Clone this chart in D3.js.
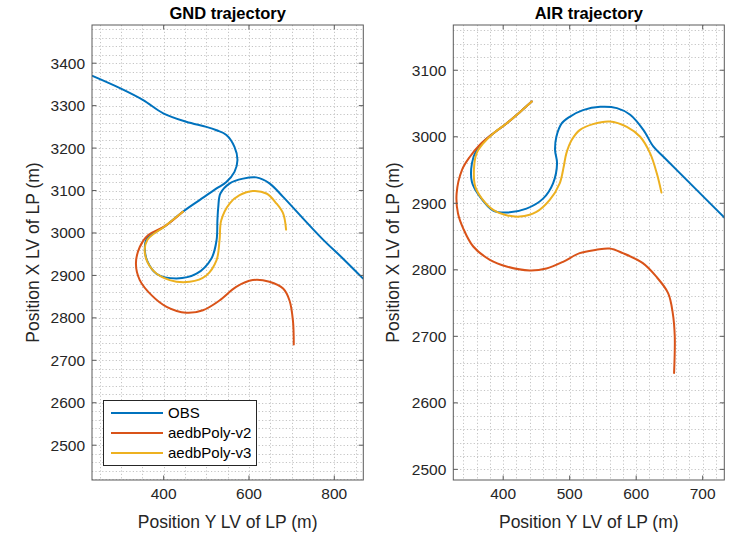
<!DOCTYPE html>
<html><head><meta charset="utf-8">
<script src="https://cdn.jsdelivr.net/npm/d3@7"></script>
<style>body{margin:0;background:#fff}svg{display:block}</style>
</head><body>
<svg id="c" width="738" height="535"></svg>
<script>
// ---------------- data ----------------
const seriesNames = ["OBS", "aedbPoly-v2", "aedbPoly-v3"];
const seriesColors = ["#0072BD", "#D95319", "#EDB120"];

const gndObs = [[233,3370],[300,3340],[352,3313],[399,3282],[453,3262],[500,3250],[524,3242],[547,3231],[566,3203],[573,3172],[566,3144],[547,3120],[524,3105],[485,3078],[445,3050],[403,3016],[360,2985],[356,2960],[362,2933],[383,2904],[430,2893],[477,2904],[512,2940],[524,2983],[526,3030],[528,3061],[533,3093],[555,3117],[586,3128],[617,3131],[648,3117],[680,3085],[726,3035],[773,2985],[820,2940],[867,2893]];
const gndV2 = [[445,3050],[403,3016],[364,2995],[344,2967],[335,2928],[344,2889],[372,2853],[407,2826],[453,2812],[492,2818],[531,2841],[570,2873],[609,2889],[648,2885],[680,2869],[695,2841],[703,2794],[705,2737]];
const gndV3 = [[445,3050],[403,3016],[362,2984],[356,2952],[375,2912],[414,2889],[461,2885],[500,2900],[524,2936],[531,2983],[535,3030],[555,3070],[578,3089],[609,3099],[641,3093],[664,3070],[680,3046],[687,3008]];

const airObs = [[443,3053],[425,3037],[405,3020],[385,3005],[370,2992],[360,2980],[353,2960],[353,2932],[365,2910],[385,2889],[405,2886],[435,2892],[460,2907],[475,2930],[481,2960],[478,2980],[480,3000],[488,3020],[500,3030],[520,3040],[546,3045],[571,3043],[591,3033],[611,3010],[626,2985],[641,2970],[666,2945],[701,2910],[733,2878]];
const airV2 = [[443,3053],[425,3037],[405,3020],[385,3005],[365,2988],[350,2970],[338,2950],[330,2915],[332,2885],[340,2862],[355,2835],[380,2815],[405,2805],[440,2799],[465,2802],[490,2812],[515,2825],[540,2830],[560,2832],[580,2825],[610,2810],[630,2790],[648,2765],[655,2735],[658,2700],[657,2645]];
const airV3 = [[443,3053],[425,3037],[405,3020],[385,3005],[370,2990],[360,2975],[356,2950],[358,2925],[368,2907],[385,2890],[405,2882],[425,2880],[450,2887],[470,2905],[485,2930],[491,2955],[495,2975],[503,2995],[515,3010],[535,3019],[560,3023],[586,3015],[606,3000],[621,2975],[631,2945],[638,2916]];

const gndXTicks = [400, 600, 800];
const gndYTicks = [2500,2600,2700,2800,2900,3000,3100,3200,3300,3400];
const airXTicks = [400, 500, 600, 700];
const airYTicks = [2500,2600,2700,2800,2900,3000,3100];

const titles = ["GND trajectory", "AIR trajectory"];
const xLabel = "Position Y LV of LP (m)";
const yLabel = "Position X LV of LP (m)";

// ---------------- layout ----------------
const FONT = "'Liberation Sans', Arial, Helvetica, sans-serif";
const svg = d3.select("#c");

const panels = [
  {title: titles[0], xd:[232,868], yd:[2418,3490], x0:92, x1:363.3, xt:gndXTicks, yt:gndYTicks, xminor:50, yminor:20,
   data:[gndObs, gndV2, gndV3], ylabX:33, legend:true},
  {title: titles[1], xd:[325,732.5], yd:[2484,3168], x0:453.3, x1:724.3, xt:airXTicks, yt:airYTicks, xminor:20, yminor:20,
   data:[airObs, airV2, airV3], ylabX:393, legend:false}
];
const topY = 25, botY = 480;

panels.forEach((p, i) => {
  const x = d3.scaleLinear().domain(p.xd).range([p.x0, p.x1]);
  const y = d3.scaleLinear().domain(p.yd).range([botY, topY]);
  const g = svg.append("g");
  const clipId = "clip" + i;
  svg.append("clipPath").attr("id", clipId).append("rect")
    .attr("x", p.x0).attr("y", topY).attr("width", p.x1 - p.x0).attr("height", botY - topY);

  // grid (minor + major, dotted)
  const gx = d3.range(Math.ceil(p.xd[0]/p.xminor)*p.xminor, p.xd[1], p.xminor);
  const gy = d3.range(Math.ceil(p.yd[0]/p.yminor)*p.yminor, p.yd[1], p.yminor);
  const grid = g.append("g").attr("stroke", "#c4c4c4").attr("stroke-width", 1).attr("stroke-dasharray", "1.2,2.2");
  grid.selectAll("line.vx").data(gx).join("line")
    .attr("x1", d => Math.round(x(d))+0.5).attr("x2", d => Math.round(x(d))+0.5).attr("y1", topY).attr("y2", botY);
  grid.selectAll("line.hy").data(gy).join("line")
    .attr("y1", d => Math.round(y(d))+0.5).attr("y2", d => Math.round(y(d))+0.5).attr("x1", p.x0).attr("x2", p.x1);

  // series
  const line = d3.line().x(d => x(d[0])).y(d => y(d[1])).curve(d3.curveCatmullRom.alpha(0.5));
  const lg = g.append("g").attr("clip-path", `url(#${clipId})`);
  p.data.forEach((s, k) => {
    lg.append("path").attr("d", line(s)).attr("fill", "none")
      .attr("stroke", seriesColors[k]).attr("stroke-width", 2).attr("stroke-linejoin", "round").attr("stroke-linecap", "round");
  });

  // axes (box with inward ticks on all sides)
  const tl = 4.5;
  const ax = g.append("g").attr("stroke", "#5a5a5a").attr("stroke-width", 1);
  ax.append("rect").attr("x", p.x0).attr("y", topY).attr("width", p.x1 - p.x0).attr("height", botY - topY).attr("fill", "none");
  p.xt.forEach(t => {
    const xx = x(t);
    ax.append("line").attr("x1", xx).attr("x2", xx).attr("y1", botY).attr("y2", botY - tl);
    ax.append("line").attr("x1", xx).attr("x2", xx).attr("y1", topY).attr("y2", topY + tl);
  });
  p.yt.forEach(t => {
    const yy = y(t);
    ax.append("line").attr("x1", p.x0).attr("x2", p.x0 + tl).attr("y1", yy).attr("y2", yy);
    ax.append("line").attr("x1", p.x1).attr("x2", p.x1 - tl).attr("y1", yy).attr("y2", yy);
  });

  // tick labels
  g.selectAll("text.xt").data(p.xt).join("text")
    .attr("x", d => x(d)).attr("y", 499).attr("text-anchor", "middle")
    .attr("font-family", FONT).attr("font-size", 15.5).attr("fill", "#262626").text(d => d);
  g.selectAll("text.yt").data(p.yt).join("text")
    .attr("x", p.x0 - 7).attr("y", d => y(d) + 5.5).attr("text-anchor", "end")
    .attr("font-family", FONT).attr("font-size", 15.5).attr("fill", "#262626").text(d => d);

  // title
  g.append("text").attr("x", (p.x0 + p.x1)/2).attr("y", 19).attr("text-anchor", "middle")
    .attr("font-family", FONT).attr("font-size", 16.5).attr("font-weight", "bold").attr("fill", "#000").text(p.title);
  // x label
  g.append("text").attr("x", (p.x0 + p.x1)/2).attr("y", 528).attr("text-anchor", "middle")
    .attr("font-family", FONT).attr("font-size", 17.5).attr("fill", "#262626").text(xLabel);
  // y label
  g.append("text").attr("transform", `translate(${p.ylabX},${(topY+botY)/2}) rotate(-90)`)
    .attr("text-anchor", "middle").attr("dy", "0.35em")
    .attr("font-family", FONT).attr("font-size", 17.5).attr("fill", "#262626").text(yLabel);

  // legend
  if (p.legend) {
    const L = g.append("g");
    L.append("rect").attr("x", 103.5).attr("y", 400.5).attr("width", 153).attr("height", 65)
      .attr("fill", "#fff").attr("stroke", "#262626").attr("stroke-width", 1);
    seriesNames.forEach((n, k) => {
      const yy = 413 + k * 20;
      L.append("line").attr("x1", 111).attr("x2", 163).attr("y1", yy).attr("y2", yy)
        .attr("stroke", seriesColors[k]).attr("stroke-width", 2);
      L.append("text").attr("x", 168).attr("y", yy + 5.3).attr("font-family", FONT).attr("font-size", 15)
        .attr("fill", "#000").text(n);
    });
  }
});
</script>
</body></html>
